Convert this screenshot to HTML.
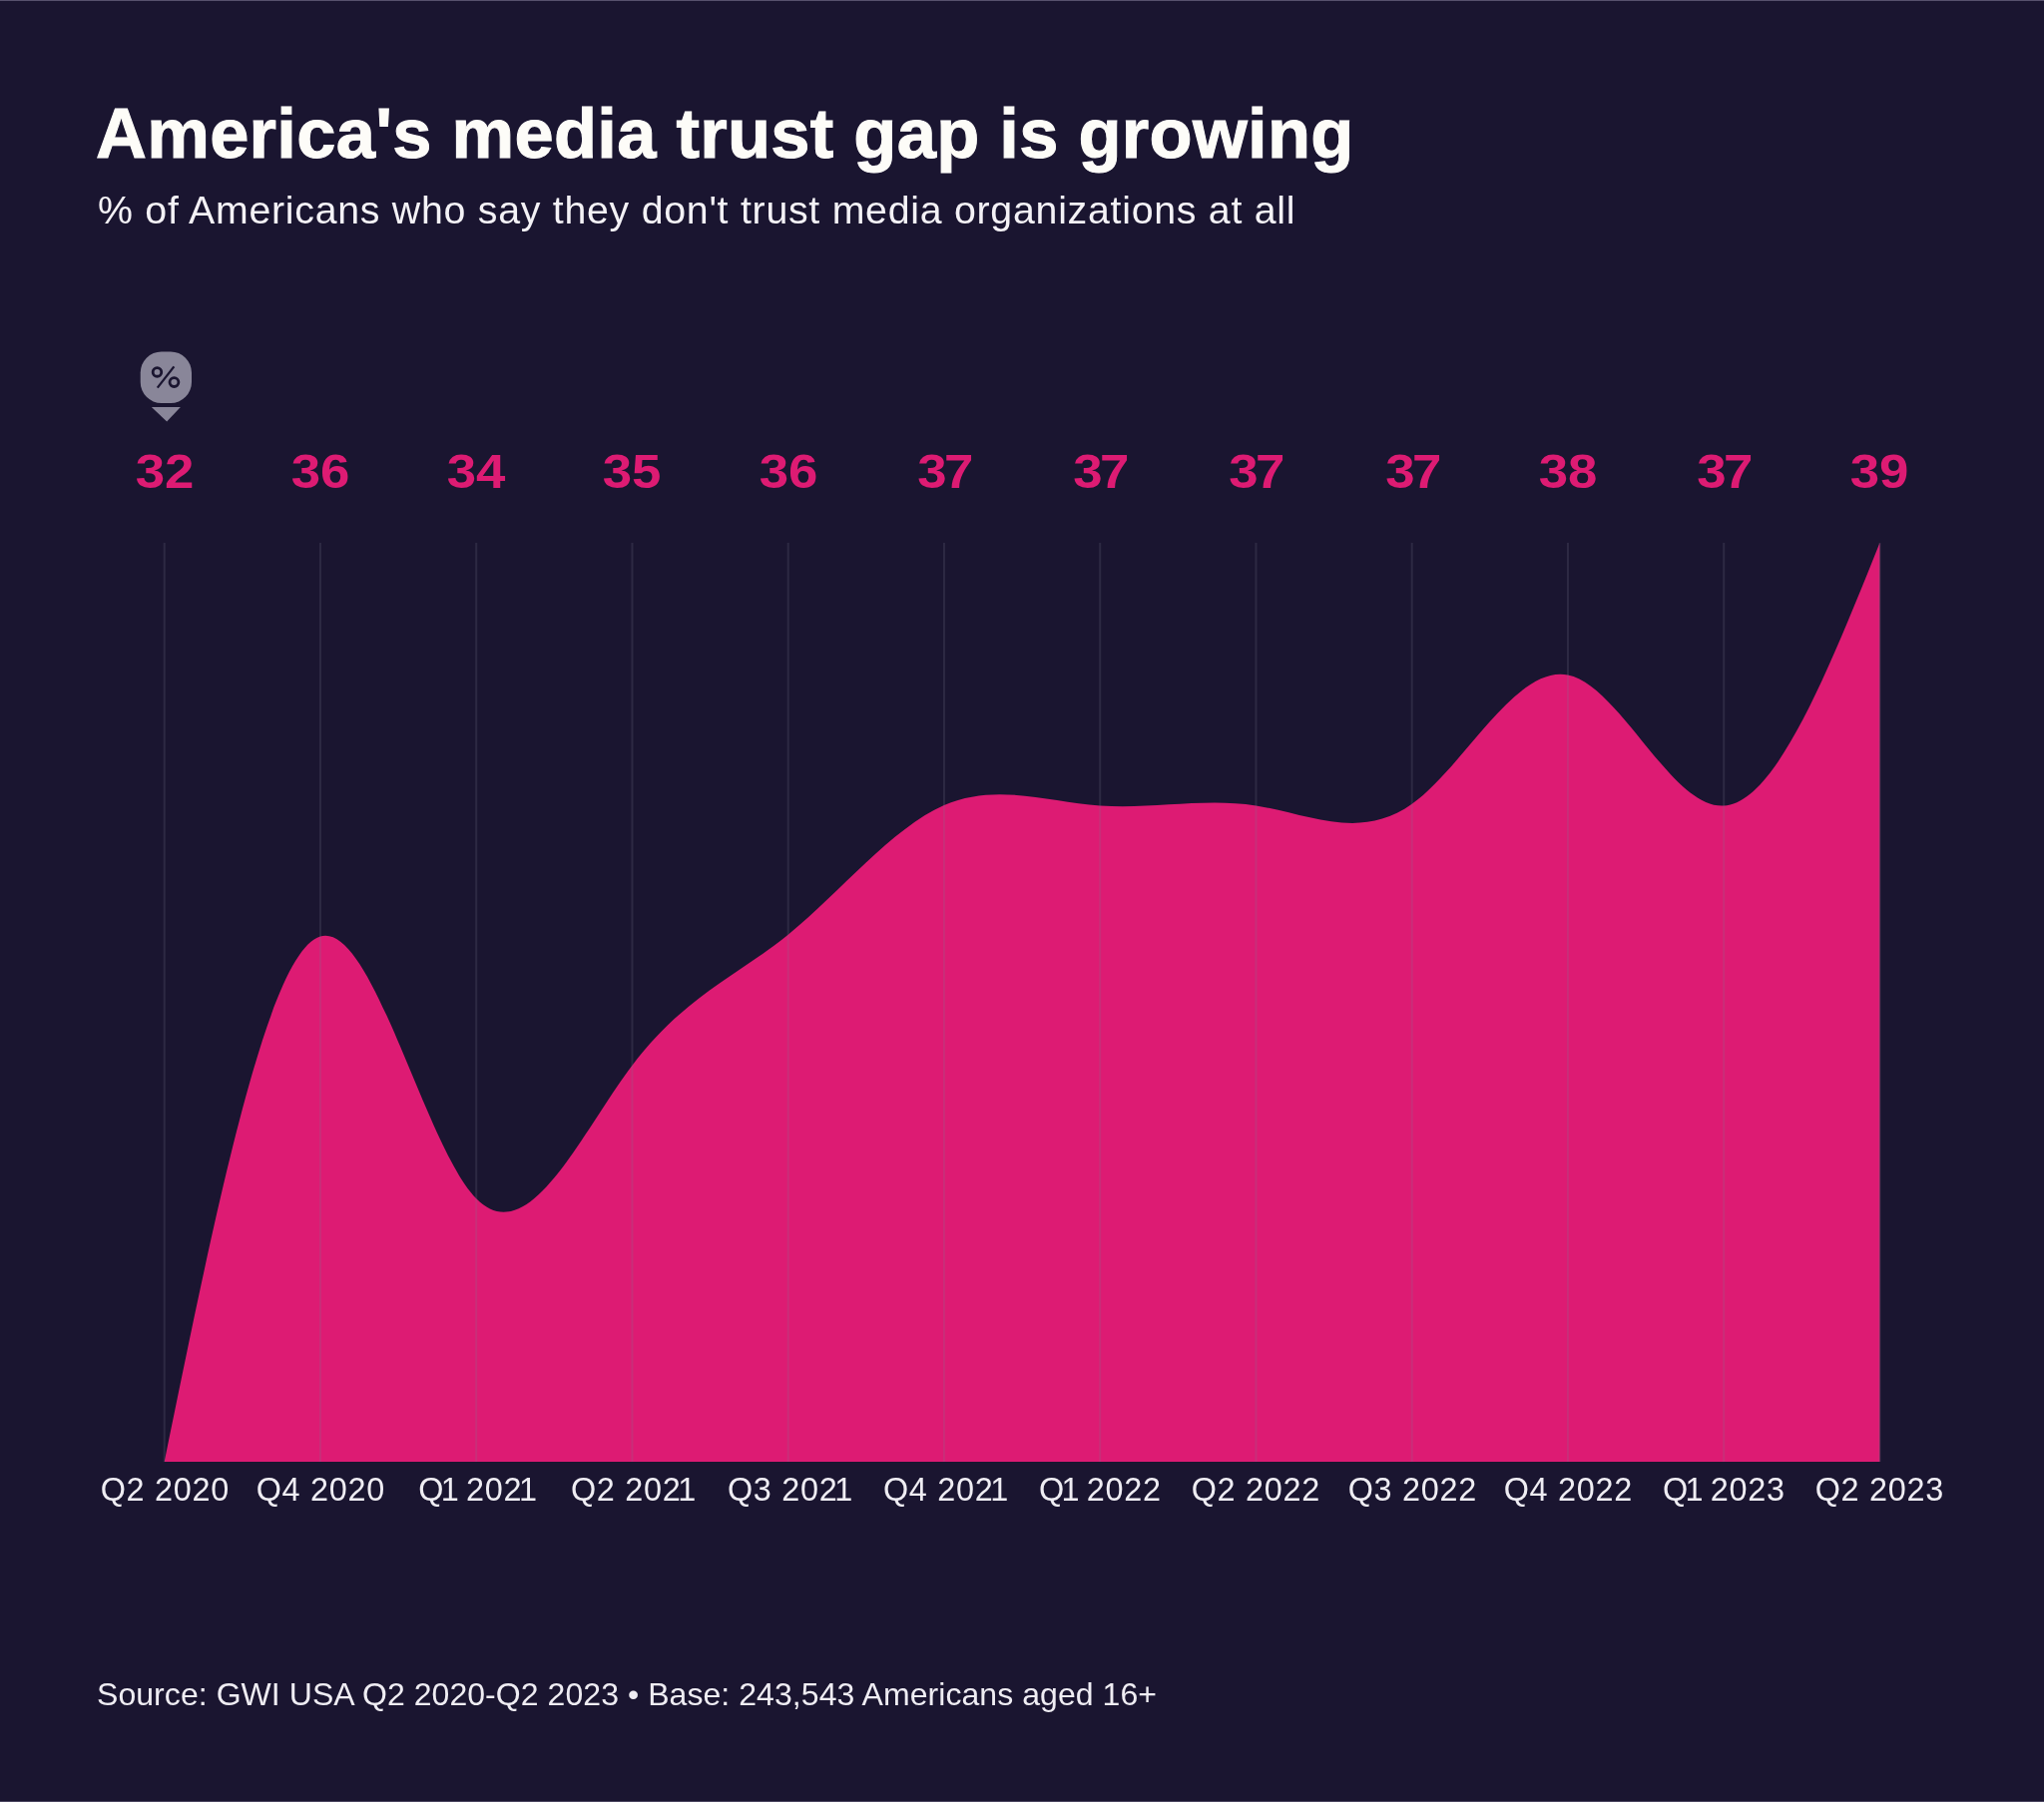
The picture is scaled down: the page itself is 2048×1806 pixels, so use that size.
<!DOCTYPE html>
<html><head><meta charset="utf-8"><style>
html,body{margin:0;padding:0;}
body{width:2048px;height:1806px;background:#1a1530;position:relative;overflow:hidden;font-family:"Liberation Sans",sans-serif;-webkit-font-smoothing:antialiased;}
.t,.v,.xl{will-change:transform;}
.edge{position:absolute;left:0;width:2048px;height:1px;background:#57516d;}
.t{position:absolute;white-space:nowrap;line-height:1;}
#title{font-weight:700;font-size:70.5px;-webkit-text-stroke:1.0px #fdfcf8;left:95.6px;top:98.51px;letter-spacing:0.27px;color:#fdfcf8;}
#sub{font-size:39.3px;left:98px;top:190.92px;letter-spacing:0.73px;color:#f4f2f6;}
#foot{font-size:32px;left:97.2px;top:1681.51px;letter-spacing:0.06px;color:#efedf3;}
.v{position:absolute;width:200px;text-align:center;top:448.66px;font-size:48px;font-weight:700;color:#dd1b73;line-height:1;transform:scaleX(1.1);letter-spacing:0px;text-indent:0px;}
.xl{position:absolute;width:200px;text-align:center;top:1477.17px;font-size:32.4px;color:#efedf3;line-height:1;letter-spacing:0.73px;text-indent:0.73px;}
svg{position:absolute;left:0;top:0;}
.n1{margin:0 -3.25px;}
.n7{margin:0 -2.6px 0 -2.4px;}
</style></head><body>
<div class="edge" style="top:0"></div>
<div class="edge" style="top:1805px;background:#4a4560"></div>
<div class="t" id="title">America's media trust gap is growing</div>
<div class="t" id="sub">% of Americans who say they don't trust media organizations at all</div>
<svg width="2048" height="1806" viewBox="0 0 2048 1806">

<path d="M164.70,1465.00L164.70,1465.00C216.78,1209.46,268.87,953.92,320.95,938.54C373.03,923.16,425.12,1147.96,477.20,1201.33C529.28,1254.70,581.37,1136.66,633.45,1067.72C685.53,998.78,737.62,978.93,789.70,936.66C841.78,894.39,893.87,829.68,945.95,807.00C998.03,784.32,1050.12,803.67,1102.20,807.44C1154.28,811.21,1206.37,799.42,1258.45,807.42C1310.53,815.42,1362.62,843.22,1414.70,805.87C1466.78,768.52,1518.87,666.01,1570.95,676.58C1623.03,687.15,1675.12,810.79,1727.20,807.54C1779.28,804.29,1831.37,674.14,1883.45,544.00L1883.45,1465.00Z" fill="#dd1b73"/>
<rect x="163.70" y="544" width="2.0" height="921" fill="#7e7e8f" fill-opacity="0.2"/><rect x="319.95" y="544" width="2.0" height="921" fill="#7e7e8f" fill-opacity="0.2"/><rect x="476.20" y="544" width="2.0" height="921" fill="#7e7e8f" fill-opacity="0.2"/><rect x="632.45" y="544" width="2.0" height="921" fill="#7e7e8f" fill-opacity="0.2"/><rect x="788.70" y="544" width="2.0" height="921" fill="#7e7e8f" fill-opacity="0.2"/><rect x="944.95" y="544" width="2.0" height="921" fill="#7e7e8f" fill-opacity="0.2"/><rect x="1101.20" y="544" width="2.0" height="921" fill="#7e7e8f" fill-opacity="0.2"/><rect x="1257.45" y="544" width="2.0" height="921" fill="#7e7e8f" fill-opacity="0.2"/><rect x="1413.70" y="544" width="2.0" height="921" fill="#7e7e8f" fill-opacity="0.2"/><rect x="1569.95" y="544" width="2.0" height="921" fill="#7e7e8f" fill-opacity="0.2"/><rect x="1726.20" y="544" width="2.0" height="921" fill="#7e7e8f" fill-opacity="0.2"/><rect x="1882.45" y="544" width="2.0" height="921" fill="#7e7e8f" fill-opacity="0.2"/>
<g transform="translate(166.35,378.25)">
<rect x="-25.65" y="-25.75" width="51.3" height="51.5" rx="21" fill="#898699"/>
<path d="M-14.5,29.75 L14.5,29.75 L0.8,44.25 Z" fill="#898699"/>
<circle cx="-8.9" cy="-5.3" r="4.3" fill="none" stroke="#1a1530" stroke-width="2.8"/>
<circle cx="8.1" cy="4.8" r="4.45" fill="none" stroke="#1a1530" stroke-width="2.8"/>
<path d="M8,-10.9 L-8.6,10.4" stroke="#1a1530" stroke-width="2.3" stroke-linecap="butt"/>
</g>
</svg>
<div class="v" style="left:64.70px">32</div><div class="v" style="left:220.95px">36</div><div class="v" style="left:377.20px">34</div><div class="v" style="left:533.45px">35</div><div class="v" style="left:689.70px">36</div><div class="v" style="left:845.95px">3<span class="n7">7</span></div><div class="v" style="left:1002.20px">3<span class="n7">7</span></div><div class="v" style="left:1158.45px">3<span class="n7">7</span></div><div class="v" style="left:1314.70px">3<span class="n7">7</span></div><div class="v" style="left:1470.95px">38</div><div class="v" style="left:1627.20px">3<span class="n7">7</span></div><div class="v" style="left:1783.45px">39</div>
<div class="xl" style="left:64.70px">Q2 2020</div><div class="xl" style="left:220.95px">Q4 2020</div><div class="xl" style="left:377.20px">Q<span class="n1">1</span> 202<span class="n1">1</span></div><div class="xl" style="left:533.45px">Q2 202<span class="n1">1</span></div><div class="xl" style="left:689.70px">Q3 202<span class="n1">1</span></div><div class="xl" style="left:845.95px">Q4 202<span class="n1">1</span></div><div class="xl" style="left:1002.20px">Q<span class="n1">1</span> 2022</div><div class="xl" style="left:1158.45px">Q2 2022</div><div class="xl" style="left:1314.70px">Q3 2022</div><div class="xl" style="left:1470.95px">Q4 2022</div><div class="xl" style="left:1627.20px">Q<span class="n1">1</span> 2023</div><div class="xl" style="left:1783.45px">Q2 2023</div>
<div class="t" id="foot">Source: GWI USA Q2 2020-Q2 2023 • Base: 243,543 Americans aged 16+</div>
</body></html>
